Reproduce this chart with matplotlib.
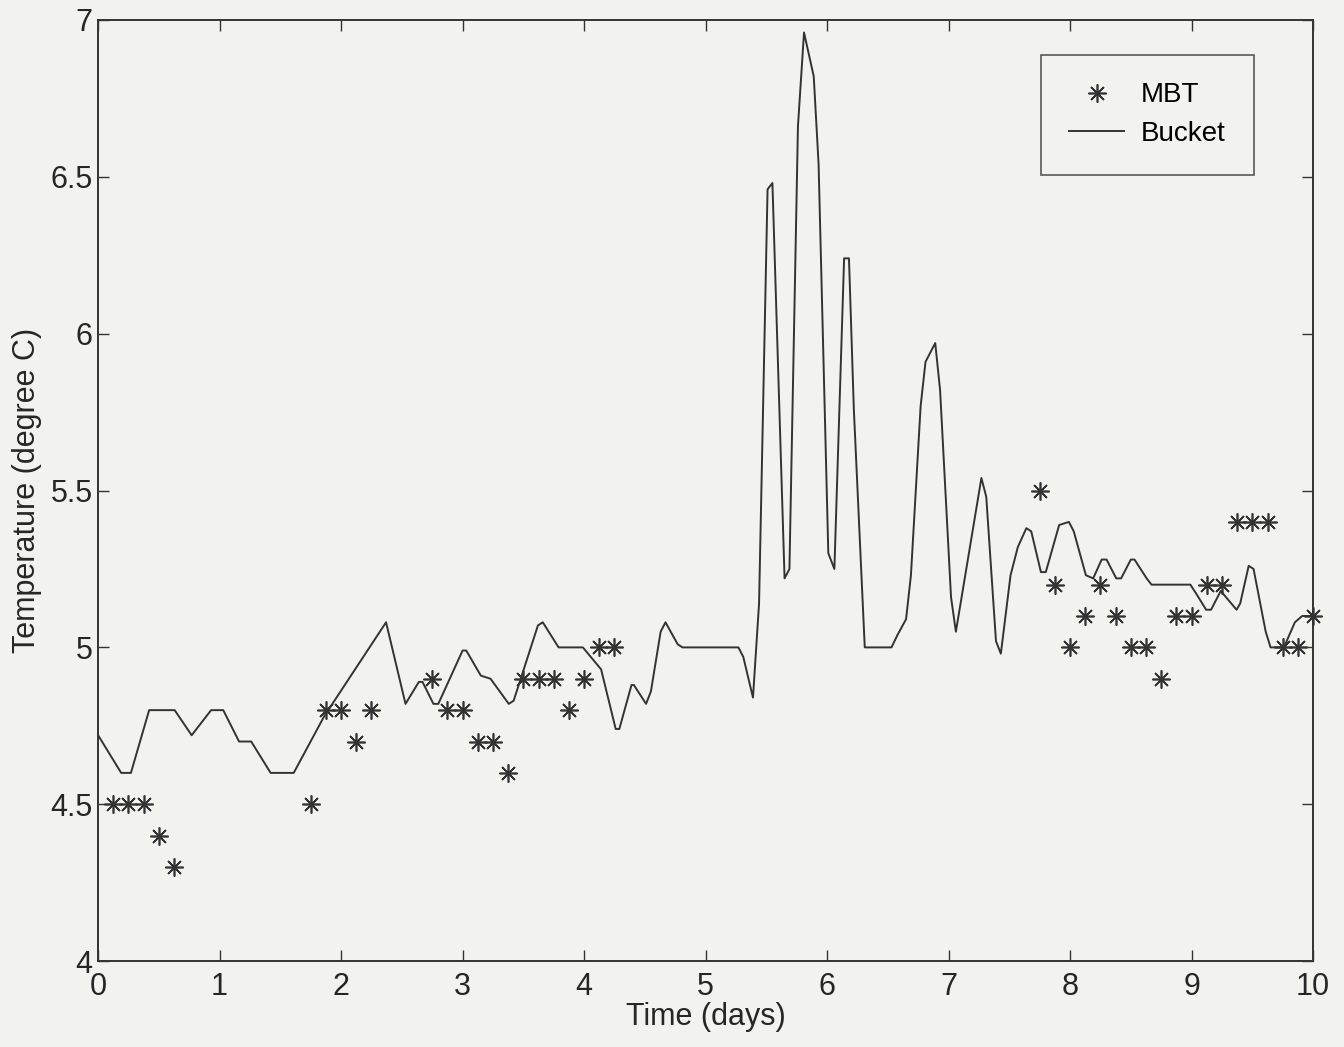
import matplotlib
matplotlib.use('Agg')
from matplotlib import pyplot as plt

# MBT samples (every 3 hours)
mbt_days = [0.125, 0.25, 0.375, 0.5, 0.625,
            1.75, 1.875, 2.0, 2.125, 2.25,
            2.75, 2.875, 3.0, 3.125, 3.25, 3.375, 3.5, 3.625, 3.75, 3.875,
            4.0, 4.125, 4.25,
            7.75, 7.875, 8.0, 8.125, 8.25, 8.375, 8.5, 8.625, 8.75, 8.875,
            9.0, 9.125, 9.25, 9.375, 9.5, 9.625, 9.75, 9.875, 10.0]
mbt_temp = [4.5, 4.5, 4.5, 4.4, 4.3,
            4.5, 4.8, 4.8, 4.7, 4.8,
            4.9, 4.8, 4.8, 4.7, 4.7, 4.6, 4.9, 4.9, 4.9, 4.8,
            4.9, 5.0, 5.0,
            5.5, 5.2, 5.0, 5.1, 5.2, 5.1, 5.0, 5.0, 4.9, 5.1,
            5.1, 5.2, 5.2, 5.4, 5.4, 5.4, 5.0, 5.0, 5.1]

# Bucket record
bucket_days = [0.0, 0.19, 0.27, 0.42, 0.63, 0.77, 0.93, 1.03, 1.16, 1.26,
               1.42, 1.61, 1.86, 2.37, 2.53, 2.64, 2.67, 2.76, 2.80, 3.00,
               3.03, 3.15, 3.23, 3.38, 3.42, 3.62, 3.66, 3.79, 3.99, 4.14,
               4.26, 4.29, 4.39, 4.41, 4.51, 4.55, 4.63, 4.67, 4.77, 4.81,
               5.27, 5.31, 5.39, 5.44, 5.51, 5.55, 5.65, 5.69, 5.76, 5.81,
               5.89, 5.93, 6.01, 6.06, 6.14, 6.18, 6.22, 6.31, 6.53, 6.58,
               6.65, 6.69, 6.77, 6.81, 6.89, 6.93, 7.02, 7.06, 7.27, 7.31,
               7.39, 7.43, 7.51, 7.57, 7.64, 7.68, 7.76, 7.80, 7.91, 7.99,
               8.03, 8.13, 8.19, 8.26, 8.30, 8.38, 8.42, 8.50, 8.53, 8.63,
               8.67, 8.99, 9.04, 9.12, 9.16, 9.24, 9.37, 9.40, 9.47, 9.51,
               9.61, 9.65, 9.76, 9.85, 9.91, 10.0]
bucket_temp = [4.72, 4.60, 4.60, 4.80, 4.80, 4.72, 4.80, 4.80, 4.70, 4.70,
               4.60, 4.60, 4.78, 5.08, 4.82, 4.89, 4.89, 4.82, 4.82, 4.99,
               4.99, 4.91, 4.90, 4.82, 4.83, 5.07, 5.08, 5.00, 5.00, 4.93,
               4.74, 4.74, 4.88, 4.88, 4.82, 4.86, 5.05, 5.08, 5.01, 5.00,
               5.00, 4.97, 4.84, 5.14, 6.46, 6.48, 5.22, 5.25, 6.66, 6.96,
               6.82, 6.54, 5.30, 5.25, 6.24, 6.24, 5.76, 5.00, 5.00, 5.04,
               5.09, 5.23, 5.77, 5.91, 5.97, 5.82, 5.16, 5.05, 5.54, 5.48,
               5.02, 4.98, 5.23, 5.32, 5.38, 5.37, 5.24, 5.24, 5.39, 5.40,
               5.37, 5.23, 5.22, 5.28, 5.28, 5.22, 5.22, 5.28, 5.28, 5.22,
               5.20, 5.20, 5.17, 5.12, 5.12, 5.18, 5.12, 5.14, 5.26, 5.25,
               5.05, 5.00, 5.00, 5.08, 5.10, 5.10]

bg = '#f2f2ef'
ink = '#333333'
txt = '#262626'

plt.rcParams.update({
    'font.family': ['Liberation Sans', 'DejaVu Sans'],
    'font.size': 22,
    'xtick.direction': 'in',
    'ytick.direction': 'in',
    'xtick.top': True,
    'ytick.right': True,
})

fig = plt.figure(figsize=(13.44, 10.47), dpi=100, facecolor=bg)
ax = fig.add_axes([0.073, 0.082, 0.904, 0.899], facecolor=bg)

# MATLAB style asterisk: plus and cross overlaid
ax.plot(mbt_days, mbt_temp, linestyle='none', marker=(8, 2, 0), markersize=13,
        markeredgewidth=1.2, color=ink, label='MBT', clip_on=False)
ax.plot(bucket_days, bucket_temp, color=ink, linewidth=1.4, label='Bucket')

ax.set_xlim(0, 10)
ax.set_ylim(4, 7)
ax.set_xticks(range(0, 11))
ax.set_yticks([4, 4.5, 5, 5.5, 6, 6.5, 7])
ax.set_yticklabels(['4', '4.5', '5', '5.5', '6', '6.5', '7'])
ax.tick_params(length=8, width=1.0, colors=ink, labelcolor=txt, labelsize=22)
ax.tick_params(axis='x', pad=8)
ax.tick_params(axis='y', pad=4)
for s in ax.spines.values():
    s.set_color(ink)
    s.set_linewidth(1.4)

ax.set_xlabel('Time (days)', fontsize=22, color=txt, labelpad=0)
ax.set_ylabel('Temperature (degree C)', fontsize=22, color=txt, labelpad=6)

leg = ax.legend(loc='upper right', bbox_to_anchor=(0.951, 0.963), fontsize=20,
                frameon=True, fancybox=False, borderpad=1.0, handlelength=2.0,
                handletextpad=0.6, labelspacing=0.45, borderaxespad=0)
leg.get_frame().set_edgecolor(ink)
leg.get_frame().set_facecolor(bg)
leg.get_frame().set_linewidth(1.2)

plt.savefig('out.png', dpi=100, facecolor=bg)
